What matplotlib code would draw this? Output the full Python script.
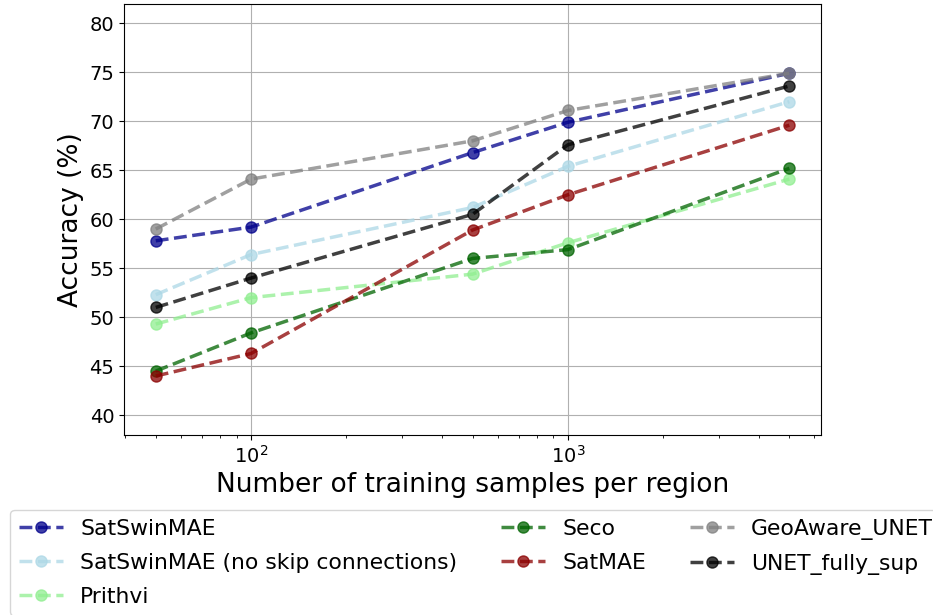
import matplotlib.pyplot as plt

samples = [50, 100, 500, 1000, 5000]
satswinmae = [57.8, 59.2, 66.8, 69.9, 74.9]
satswinmae_noskip = [52.3, 56.4, 61.2, 65.4, 72.0]
prithvi = [49.3, 52.0, 54.4, 57.6, 64.1]
seco = [44.5, 48.4, 56.0, 56.9, 65.2]
satmae = [44.0, 46.3, 58.9, 62.5, 69.6]
geoaware = [59.0, 64.1, 68.0, 71.1, 74.9]
unet_sup = [51.0, 54.0, 60.5, 67.6, 73.6]

series = [
    ('SatSwinMAE', satswinmae, 'darkblue'),
    ('SatSwinMAE (no skip connections)', satswinmae_noskip, 'lightblue'),
    ('Prithvi', prithvi, 'lightgreen'),
    ('Seco', seco, 'darkgreen'),
    ('SatMAE', satmae, 'darkred'),
    ('GeoAware_UNET', geoaware, 'gray'),
    ('UNET_fully_sup', unet_sup, 'black'),
]

fig = plt.figure(figsize=(9.33, 6.15), dpi=100)
ax = fig.add_axes([0.133, 0.293, 0.747, 0.701])
for name, vals, col in series:
    ax.plot(samples, vals, '--o', color=col, alpha=0.75, lw=2.5, ms=8, label=name)

ax.set_xscale('log')
ax.set_ylim(38, 82)
ax.set_yticks(range(40, 81, 5))
ax.grid(True)
ax.tick_params(labelsize=14)
ax.set_xlabel('Number of training samples per region', fontsize=19)
ax.set_ylabel('Accuracy (%)', fontsize=19)

fig.legend(loc='upper left', bbox_to_anchor=(0.011, 0.171), ncol=3, fontsize=15.75,
           handlelength=2.0, borderaxespad=0, labelspacing=0.65, columnspacing=2.0)
fig.savefig('out.png', dpi=100)
